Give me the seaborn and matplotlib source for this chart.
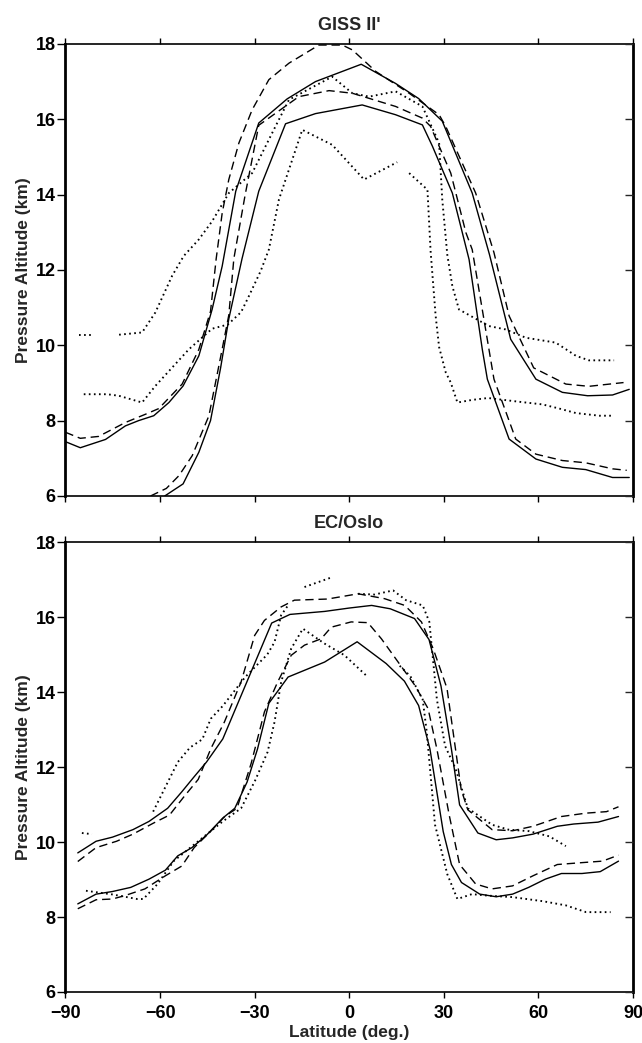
import numpy as np
import pandas as pd
import matplotlib
matplotlib.use("Agg")
import matplotlib.pyplot as plt
import seaborn as sns

nan = np.nan

# ---------------- GISS II' (top panel) ----------------
top_solid_hi_lat = [-90, -85.3, -77.3, -71.0, -66.8, -62.0, -57.2, -52.7, -47.7, -43.5, -40.3, -36.0, -28.7, -19.7, -10.7, 3.8, 14.7, 22.0, 29.5, 39.0, 44.5, 51.2, 59.2, 67.6, 75.6, 83.5, 88.8]
top_solid_hi_alt = [7.44, 7.28, 7.50, 7.86, 8.00, 8.13, 8.48, 8.92, 9.72, 10.95, 12.10, 14.09, 15.90, 16.54, 17.00, 17.46, 16.95, 16.55, 15.95, 14.04, 12.40, 10.16, 9.10, 8.75, 8.66, 8.68, 8.83]

top_solid_lo_lat = [-58.5, -52.7, -47.7, -44.0, -40.8, -38.2, -34.0, -28.7, -20.2, -10.7, 4.1, 14.7, 23.2, 26.4, 32.7, 38.0, 42.2, 43.8, 50.7, 59.2, 67.6, 75.0, 83.5, 88.8]
top_solid_lo_alt = [6.00, 6.32, 7.16, 8.00, 9.40, 10.70, 12.30, 14.09, 15.88, 16.15, 16.38, 16.12, 15.85, 15.28, 14.04, 12.28, 9.89, 9.10, 7.51, 6.98, 6.76, 6.70, 6.49, 6.49]

top_dash_hi_lat = [-90, -85.3, -79.5, -71.0, -64.6, -60.4, -53.0, -47.7, -44.0, -42.2, -40.3, -38.2, -35.0, -30.8, -25.5, -19.1, -9.6, -2.2, 1.0, 8.4, 19.0, 28.5, 30.6, 40.1, 45.9, 50.7, 58.5, 68.7, 76.0, 87.0]
top_dash_hi_alt = [7.69, 7.53, 7.58, 7.95, 8.17, 8.32, 8.97, 9.89, 10.90, 12.30, 13.51, 14.40, 15.37, 16.25, 17.05, 17.49, 17.97, 17.97, 17.84, 17.27, 16.69, 16.12, 15.81, 14.04, 12.46, 10.78, 9.40, 8.97, 8.91, 9.01]

top_dash_lo_lat = [-63.0, -58.0, -54.0, -49.8, -44.5, -40.3, -38.2, -36.6, -33.0, -28.7, -16.0, -6.4, 1.0, 14.7, 23.2, 25.8, 32.2, 37.0, 39.0, 45.9, 52.8, 59.2, 67.6, 75.0, 83.5, 88.0]
top_dash_lo_alt = [6.00, 6.20, 6.54, 7.07, 8.13, 9.90, 10.80, 12.30, 14.00, 15.84, 16.60, 16.76, 16.69, 16.34, 16.03, 15.81, 14.57, 12.99, 12.54, 9.10, 7.51, 7.11, 6.94, 6.88, 6.72, 6.68]

top_dot_hi_lat = [-85.8, -81.0, nan, -73.0, -65.7, -61.5, -56.2, -52.5, -47.7, -43.5, -38.2, -30.8, -23.4, -19.1, -5.4, 1.0, 6.3, 14.7, 23.2, 28.5, 29.5, 31.1, 32.7, 34.8, 44.3, 49.6, 56.0, 65.5, 71.9, 76.0, 84.0]
top_dot_hi_alt = [10.26, 10.26, nan, 10.28, 10.34, 10.87, 11.84, 12.37, 12.81, 13.29, 14.04, 14.57, 15.81, 16.52, 17.13, 16.69, 16.60, 16.74, 16.34, 15.37, 13.87, 12.40, 11.57, 10.95, 10.51, 10.42, 10.20, 10.07, 9.72, 9.60, 9.60]

top_dot_lo_lat = [-84.2, -76.8, -73.1, -65.7, -61.5, -50.9, -43.5, -38.5, -34.3, -31.8, -28.1, -25.5, -22.3, -14.9, -5.4, 4.7, 15.2, nan, 19.0, 24.8, 25.8, 27.4, 28.5, 30.6, 32.2, 34.3, 39.0, 44.0, 53.9, 61.3, 66.6, 71.9, 79.3, 84.0]
top_dot_lo_alt = [8.70, 8.70, 8.66, 8.48, 8.92, 9.89, 10.44, 10.55, 10.88, 11.31, 11.97, 12.54, 13.87, 15.72, 15.32, 14.40, 14.86, nan, 14.57, 14.13, 12.50, 10.78, 9.95, 9.28, 9.01, 8.48, 8.55, 8.60, 8.50, 8.43, 8.32, 8.20, 8.13, 8.13]

# ---------------- EC/Oslo (bottom panel) ----------------
bot_solid_hi_lat = [-86.1, -80.3, -75.1, -68.6, -63.5, -57.6, -53.1, -49.2, -45.3, -40.1, -24.6, -18.8, -7.8, 0.0, 7.1, 13.0, 20.7, 25.3, 29.1, 32.4, 35.0, 40.8, 46.6, 51.8, 58.3, 66.0, 71.2, 78.9, 85.4]
bot_solid_hi_alt = [9.71, 10.02, 10.13, 10.33, 10.55, 10.90, 11.34, 11.74, 12.13, 12.75, 15.84, 16.07, 16.15, 16.24, 16.31, 16.22, 15.96, 15.40, 14.16, 12.48, 10.99, 10.24, 10.06, 10.11, 10.21, 10.42, 10.48, 10.53, 10.68]

bot_solid_lo_lat = [-86.1, -80.3, -75.1, -69.3, -63.5, -58.3, -54.4, -49.9, -45.3, -40.1, -36.3, -32.4, -29.1, -25.5, -19.4, -13.6, -7.8, 2.5, 11.7, 17.5, 22.0, 25.6, 29.8, 32.4, 35.6, 41.4, 46.6, 51.8, 56.9, 62.2, 67.3, 73.8, 79.6, 85.4]
bot_solid_lo_alt = [8.35, 8.61, 8.68, 8.79, 9.01, 9.25, 9.63, 9.85, 10.18, 10.64, 10.90, 11.60, 12.48, 13.70, 14.40, 14.60, 14.80, 15.34, 14.76, 14.29, 13.64, 12.48, 10.28, 9.40, 8.92, 8.61, 8.54, 8.61, 8.79, 9.01, 9.16, 9.16, 9.21, 9.49]

bot_dash_hi_lat = [-86.1, -80.3, -73.8, -68.6, -62.2, -57.0, -52.4, -47.9, -43.9, -39.6, -34.3, -30.0, -26.9, -21.6, -17.4, -6.9, 2.8, 11.2, 17.6, 22.9, 26.6, 31.0, 33.7, 35.5, 37.6, 45.3, 51.8, 58.3, 67.3, 75.1, 81.6, 85.4]
bot_dash_hi_alt = [9.48, 9.85, 10.02, 10.21, 10.50, 10.72, 11.21, 11.67, 12.49, 13.20, 14.27, 15.51, 15.91, 16.27, 16.45, 16.48, 16.62, 16.49, 16.31, 15.87, 15.16, 14.10, 12.48, 11.40, 10.86, 10.33, 10.30, 10.42, 10.68, 10.77, 10.81, 10.94]

bot_dash_lo_lat = [-86.1, -80.3, -75.1, -71.2, -64.8, -58.3, -53.1, -49.2, -44.0, -39.5, -35.6, -31.1, -26.9, -22.7, -18.4, -14.2, -8.9, -5.7, 0.6, 5.9, 10.2, 15.5, 20.8, 25.0, 27.8, 31.7, 35.0, 40.1, 45.3, 51.8, 58.3, 66.0, 73.8, 80.3, 85.4]
bot_dash_lo_alt = [8.22, 8.46, 8.48, 8.57, 8.75, 9.10, 9.36, 9.85, 10.28, 10.68, 10.90, 12.10, 13.47, 14.27, 14.98, 15.25, 15.42, 15.73, 15.87, 15.85, 15.42, 14.80, 14.18, 13.56, 12.48, 10.72, 9.40, 8.88, 8.75, 8.83, 9.10, 9.40, 9.45, 9.49, 9.65]

bot_dot_hi_lat = [-84.8, -81.6, nan, -62.2, -59.6, -54.4, -50.5, -46.6, -43.9, -40.1, -33.0, -26.0, -23.7, -21.6, -19.5, nan, -14.2, -5.2, nan, 2.8, 8.0, 13.9, 18.0, 23.3, 25.4, 27.8, 30.4, 33.7, 37.6, 45.3, 50.5, 57.0, 63.5, 68.7]
bot_dot_hi_alt = [10.24, 10.21, nan, 10.81, 11.25, 12.13, 12.52, 12.74, 13.29, 13.63, 14.40, 15.00, 15.33, 16.05, 16.30, nan, 16.80, 17.07, nan, 16.62, 16.60, 16.71, 16.45, 16.31, 15.87, 13.80, 12.56, 11.96, 10.90, 10.46, 10.33, 10.29, 10.15, 9.89]

bot_dot_lo_lat = [-83.5, -75.0, -67.3, -65.3, -60.8, -55.7, -47.9, -40.1, -34.3, -29.8, -25.9, -23.7, -21.6, -18.4, -14.7, -8.0, -1.5, 5.9, nan, 16.0, 19.4, 23.3, 24.6, 27.2, 31.1, 34.3, 38.9, 44.0, 51.8, 61.5, 68.7, 75.1, 82.9]
bot_dot_lo_alt = [8.70, 8.60, 8.48, 8.48, 8.88, 9.49, 10.02, 10.55, 10.90, 11.65, 12.40, 13.20, 14.27, 15.16, 15.69, 15.30, 14.98, 14.40, nan, 14.70, 14.42, 13.80, 12.92, 10.46, 9.14, 8.48, 8.61, 8.57, 8.53, 8.42, 8.31, 8.13, 8.13]

panel_titles = ["GISS II'", "EC/Oslo"]
x_ticks = [-90, -60, -30, 0, 30, 60, 90]
y_ticks = [6, 8, 10, 12, 14, 16, 18]
x_label = "Latitude (deg.)"
y_label = "Pressure Altitude (km)"

# ---------------- style ----------------
sns.set_theme(style="ticks")
plt.rcParams['font.family'] = ['Liberation Sans', 'DejaVu Sans']
plt.rcParams['font.weight'] = 'bold'
plt.rcParams['axes.unicode_minus'] = True

SOLID = dict(color='black', linewidth=1.0, linestyle='-')
DASH = dict(color='black', linewidth=1.0, linestyle=(0, (6.0, 3.5)))
DOT = dict(color='black', linewidth=1.35, linestyle=(0, (0.9, 1.8)))


def frame(lat, alt):
    lat = np.asarray(lat, dtype=float)
    alt = np.asarray(alt, dtype=float)
    seg = np.cumsum(np.isnan(alt))
    df = pd.DataFrame({'lat': lat, 'alt': alt, 'seg': seg}).dropna()
    return df


def draw(ax, lat, alt, style):
    df = frame(lat, alt)
    sns.lineplot(data=df, x='lat', y='alt', units='seg', estimator=None,
                 sort=False, ax=ax, legend=False, **style)


fig = plt.figure(figsize=(6.42, 10.43), dpi=100)
ax_top = fig.add_axes([0.102, 0.5245, 0.884, 0.4334])
ax_bot = fig.add_axes([0.102, 0.0489, 0.884, 0.4314])

panels = [
    (ax_top, [(top_solid_hi_lat, top_solid_hi_alt, SOLID),
              (top_solid_lo_lat, top_solid_lo_alt, SOLID),
              (top_dash_hi_lat, top_dash_hi_alt, DASH),
              (top_dash_lo_lat, top_dash_lo_alt, DASH),
              (top_dot_hi_lat, top_dot_hi_alt, DOT),
              (top_dot_lo_lat, top_dot_lo_alt, DOT)]),
    (ax_bot, [(bot_solid_hi_lat, bot_solid_hi_alt, SOLID),
              (bot_solid_lo_lat, bot_solid_lo_alt, SOLID),
              (bot_dash_hi_lat, bot_dash_hi_alt, DASH),
              (bot_dash_lo_lat, bot_dash_lo_alt, DASH),
              (bot_dot_hi_lat, bot_dot_hi_alt, DOT),
              (bot_dot_lo_lat, bot_dot_lo_alt, DOT)]),
]

for i, (ax, series) in enumerate(panels):
    for lat, alt, st in series:
        draw(ax, lat, alt, st)
    ax.set_xlim(-90, 90)
    ax.set_ylim(6, 18)
    ax.set_xticks(x_ticks)
    ax.set_yticks(y_ticks)
    ax.set_title(panel_titles[i], fontsize=13, fontweight='bold', pad=10)
    ax.set_ylabel(y_label, fontsize=12.5, fontweight='bold', labelpad=3)
    for side in ['left', 'right']:
        ax.spines[side].set_visible(True)
        ax.spines[side].set_linewidth(2.0)
        ax.spines[side].set_color('black')
    for side in ['top', 'bottom']:
        ax.spines[side].set_visible(True)
        ax.spines[side].set_linewidth(1.2)
        ax.spines[side].set_color('black')
    ax.tick_params(axis='y', direction='out', length=6, width=1.0, left=True,
                   right=False, labelsize=13, pad=1, colors='black')
    ax.tick_params(axis='x', direction='out', length=4.5, width=1.0, top=True,
                   bottom=True, labelsize=13, pad=5, colors='black')
    for lab in ax.get_xticklabels() + ax.get_yticklabels():
        lab.set_fontweight('bold')
    # inward ticks on the right side
    tw = ax.twinx()
    tw.set_ylim(6, 18)
    tw.set_yticks(y_ticks)
    tw.tick_params(axis='y', direction='in', length=6, width=1.0,
                   labelright=False, right=True)
    for s in tw.spines.values():
        s.set_visible(False)
    tw.grid(False)
    ax.grid(False)

ax_top.set_xlabel('')
ax_top.tick_params(axis='x', labelbottom=False)
ax_bot.set_xlabel(x_label, fontsize=12.5, fontweight='bold', labelpad=2)

fig.savefig('out.png', dpi=100, facecolor='white')
